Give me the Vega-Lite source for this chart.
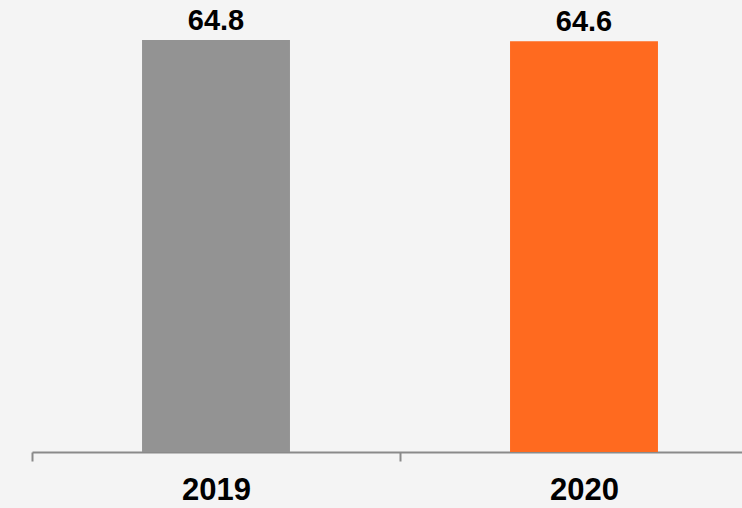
{
  "$schema": "https://vega.github.io/schema/vega-lite/v6.json",
  "autosize": "none",
  "padding": {"left": 32, "top": 0, "right": 0, "bottom": 56},
  "width": 736,
  "height": 452,
  "background": "#f4f4f4",
  "config": {"view": {"stroke": null}, "font": "Liberation Sans"},
  "data": {"values": [
    {"year": "2019", "value": 64.8},
    {"year": "2020", "value": 64.6}
  ]},
  "encoding": {
    "x": {"field": "year", "type": "nominal", "sort": null,
      "scale": {"paddingInner": 0, "paddingOuter": 0},
      "axis": {"title": null, "labelAngle": 0, "tickBand": "extent", "domainColor": "#8a8a8a", "domainWidth": 2, "tickColor": "#8a8a8a", "tickWidth": 2, "tickSize": 9, "labelFontSize": 31, "labelFontWeight": "bold", "labelColor": "#000000", "labelPadding": 14, "labelFont": "Liberation Sans"}},
    "y": {"field": "value", "type": "quantitative", "scale": {"domain": [0, 71.1], "nice": false}, "axis": null}
  },
  "layer": [
    {"mark": {"type": "bar", "width": {"band": 0.402}},
     "encoding": {"color": {"field": "year", "type": "nominal", "scale": {"domain": ["2019", "2020"], "range": ["#939393", "#ff6a1f"]}, "legend": null}}},
    {"mark": {"type": "text", "baseline": "bottom", "dy": -4, "fontSize": 29, "fontWeight": "bold", "color": "#000000", "font": "Liberation Sans"},
     "encoding": {"text": {"field": "value", "type": "quantitative", "format": ".1f"}}}
  ]
}
